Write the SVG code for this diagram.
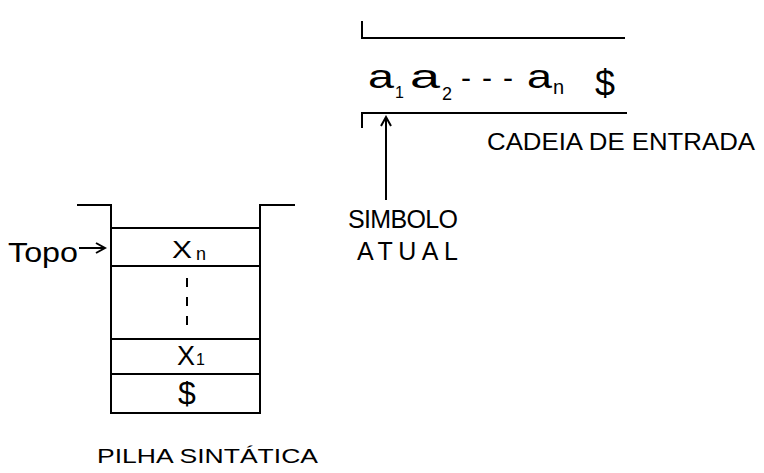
<svg xmlns="http://www.w3.org/2000/svg" width="764" height="473" viewBox="0 0 764 473">
<style>
.ln{stroke:#000;stroke-width:2;fill:none}
.lbl{font-family:"Liberation Sans",Arial,sans-serif;fill:#000}
.cap{font-family:"Liberation Sans",Arial,sans-serif;fill:#000}
</style>
<defs>
<marker id="ah" markerWidth="12" markerHeight="12" refX="10" refY="6" orient="auto" markerUnits="userSpaceOnUse">
<path d="M1,1 L10,6 L1,11" fill="none" stroke="#000" stroke-width="2"/>
</marker>
</defs>
<g id="tape">
<path class="ln" d="M362,21 V38 H625"/>
<path class="ln" d="M362,128 V113 H627"/>
<text class="lbl" font-size="34" x="368" y="88" textLength="26" lengthAdjust="spacingAndGlyphs">a</text>
<text class="lbl" font-size="16" x="395" y="98">1</text>
<text class="lbl" font-size="34" x="410" y="88" textLength="30" lengthAdjust="spacingAndGlyphs">a</text>
<text class="lbl" font-size="18" x="442" y="100">2</text>
<text class="lbl" font-size="30" x="461" y="88" textLength="52" lengthAdjust="spacing">- - -</text>
<text class="lbl" font-size="34" x="527" y="88" textLength="25" lengthAdjust="spacingAndGlyphs">a</text>
<text class="lbl" font-size="20" x="553" y="94">n</text>
<text class="lbl" font-size="36" x="595" y="96">$</text>
<text class="cap" font-size="23" x="487" y="150" textLength="268" lengthAdjust="spacingAndGlyphs">CADEIA DE ENTRADA</text>
</g>
<g id="simbolo">
<text class="cap" font-size="25" x="348" y="228" textLength="110" lengthAdjust="spacing">SIMBOLO</text>
<text class="cap" font-size="25" x="357" y="260" textLength="101" lengthAdjust="spacing">ATUAL</text>
</g>
<g id="stack">
<path class="ln" d="M77,205 H111 V413 H260 V205 H295"/>
<path class="ln" d="M111,228 H260 M111,266 H260 M111,339 H260 M111,374 H260"/>
<text class="lbl" x="172" y="258" font-size="23" textLength="20" lengthAdjust="spacingAndGlyphs">X</text>
<text class="lbl" x="196" y="260" font-size="18">n</text>
<path d="M187,278 V328" stroke="#000" stroke-width="2" stroke-dasharray="9,10" fill="none"/>
<text class="lbl" x="177" y="365" font-size="27" textLength="18" lengthAdjust="spacingAndGlyphs">X</text>
<text class="lbl" x="196" y="365" font-size="16">1</text>
<text class="lbl" x="187" y="404" font-size="32" text-anchor="middle">$</text>
<text class="cap" font-size="21" x="97" y="463" textLength="221" lengthAdjust="spacingAndGlyphs">PILHA SINTÁTICA</text>
</g>
<g id="topo">
<text class="lbl" x="8" y="262" font-size="28" textLength="70" lengthAdjust="spacingAndGlyphs">Topo</text>
</g>
<g id="connectors">
<path class="ln" d="M386,200 V117" marker-end="url(#ah)"/>
<path class="ln" d="M79,248 H105" marker-end="url(#ah)"/>
</g>
</svg>
